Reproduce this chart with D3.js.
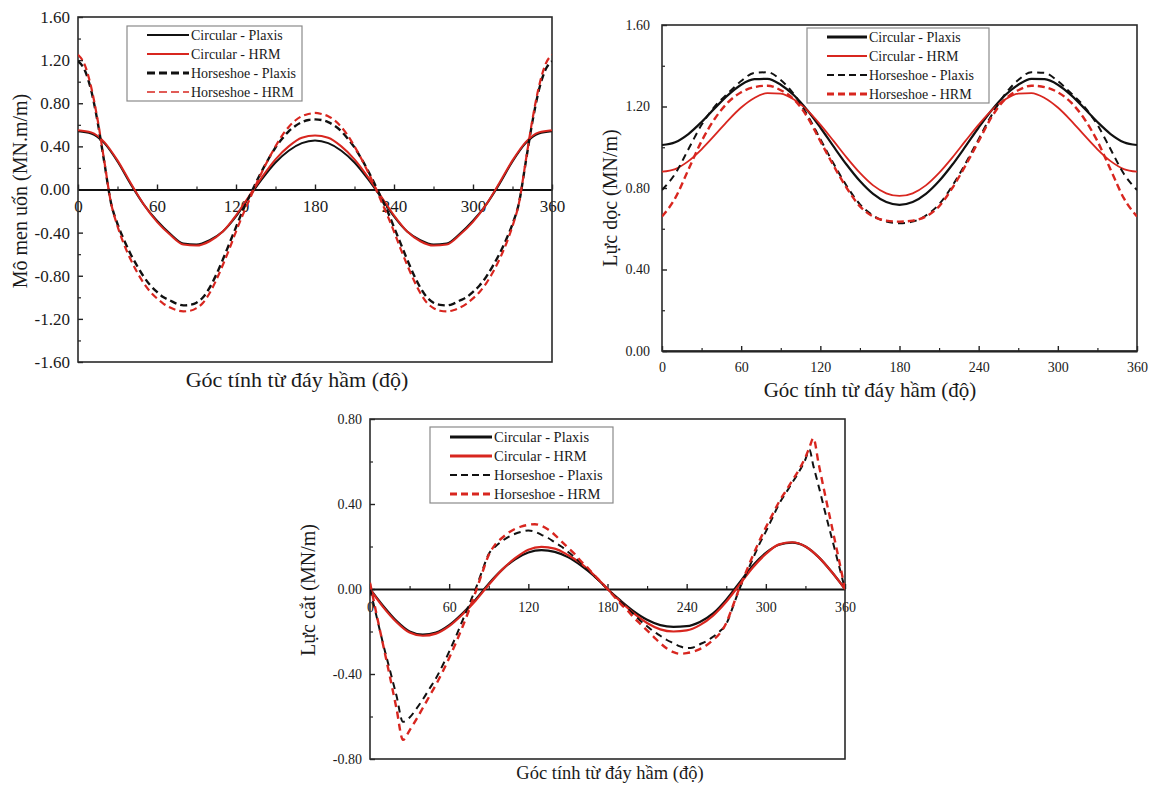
<!DOCTYPE html>
<html>
<head>
<meta charset="utf-8">
<script src="https://cdn.jsdelivr.net/npm/d3@7"></script>
<style>
  body { margin: 0; background: #fff; }
  svg { display: block; }
  text { font-family: "Liberation Serif", "Times New Roman", "DejaVu Serif", serif; fill: #1a1a1a; }
</style>
</head>
<body>
<svg id="fig" width="1154" height="785"></svg>
<script>
// ---------- shared labels ----------
const seriesNames = ["Circular - Plaxis", "Circular - HRM", "Horseshoe - Plaxis", "Horseshoe - HRM"];
const angleTicks = [0, 60, 120, 180, 240, 300, 360];
const xTitle = "Góc tính từ đáy hầm (độ)";

// ---------- bending moment (MN.m/m) ----------
const momentTicks = [-1.6, -1.2, -0.8, -0.4, 0, 0.4, 0.8, 1.2, 1.6];
const momentAngles = [0,10,20,30,40,50,60,70,80,90,100,110,120,130,140,150,160,170,180,
  190,200,210,220,230,240,250,260,270,280,290,300,310,320,330,340,350,360];
const momentCircPlaxis = [0.54,0.52,0.43,0.26,0.05,-0.14,-0.29,-0.41,-0.50,-0.51,-0.47,-0.39,-0.25,-0.07,0.10,0.25,0.36,0.43,0.455,
  0.43,0.36,0.25,0.10,-0.07,-0.25,-0.39,-0.47,-0.51,-0.50,-0.41,-0.29,-0.14,0.05,0.26,0.43,0.52,0.54];
const momentCircHRM = [0.55,0.53,0.44,0.27,0.06,-0.14,-0.30,-0.42,-0.51,-0.52,-0.48,-0.39,-0.24,-0.06,0.12,0.28,0.40,0.48,0.50,
  0.48,0.40,0.28,0.12,-0.06,-0.24,-0.39,-0.48,-0.52,-0.51,-0.42,-0.30,-0.14,0.06,0.27,0.44,0.53,0.55];
const momentHsAngles = [0,5,10,15,20,25,30,35,40,45,50,55,60,65,70,75,80,85,90,95,100,105,110,115,120,125,130,135,140,145,150,155,160,165,170,175,180,
  185,190,195,200,205,210,215,220,225,230,235,240,245,250,255,260,265,270,275,280,285,290,295,300,305,310,315,320,325,330,335,340,345,350,355,360];
const momentHsPlaxis = [1.19,1.11,0.92,0.62,0.25,-0.12,-0.32,-0.47,-0.60,-0.71,-0.81,-0.89,-0.95,-1.00,-1.03,-1.06,-1.075,-1.07,-1.05,-1.00,-0.91,-0.79,-0.65,-0.50,-0.35,-0.20,-0.07,0.06,0.18,0.29,0.39,0.47,0.54,0.59,0.625,0.645,0.65,
  0.645,0.625,0.59,0.54,0.47,0.39,0.29,0.18,0.06,-0.07,-0.20,-0.35,-0.50,-0.65,-0.79,-0.91,-1.00,-1.05,-1.07,-1.075,-1.06,-1.03,-1.00,-0.95,-0.89,-0.81,-0.71,-0.60,-0.47,-0.32,-0.12,0.25,0.62,0.92,1.11,1.19];
const momentHsHRM = [1.25,1.16,0.95,0.64,0.26,-0.12,-0.34,-0.51,-0.65,-0.77,-0.87,-0.95,-1.01,-1.06,-1.095,-1.12,-1.13,-1.125,-1.10,-1.05,-0.96,-0.84,-0.70,-0.55,-0.39,-0.24,-0.10,0.04,0.17,0.29,0.40,0.50,0.58,0.64,0.68,0.70,0.71,
  0.70,0.68,0.64,0.58,0.50,0.40,0.29,0.17,0.04,-0.10,-0.24,-0.39,-0.55,-0.70,-0.84,-0.96,-1.05,-1.10,-1.125,-1.13,-1.12,-1.095,-1.06,-1.01,-0.95,-0.87,-0.77,-0.65,-0.51,-0.34,-0.12,0.26,0.64,0.95,1.16,1.25];

// ---------- axial force (MN/m) ----------
const axialTicks = [0, 0.4, 0.8, 1.2, 1.6];
const axialAngles = momentAngles;
const axialCircPlaxis = [1.011,1.025,1.065,1.124,1.192,1.256,1.307,1.334,1.336,1.307,1.255,1.183,1.097,1.004,0.914,0.834,0.771,0.731,0.717,
  0.731,0.771,0.834,0.914,1.004,1.097,1.183,1.255,1.307,1.336,1.334,1.307,1.256,1.192,1.124,1.065,1.025,1.011];
const axialCircHRM = [0.880,0.893,0.932,0.990,1.059,1.131,1.195,1.242,1.266,1.263,1.234,1.182,1.111,1.031,0.949,0.874,0.813,0.774,0.761,
  0.774,0.813,0.874,0.949,1.031,1.111,1.182,1.234,1.263,1.266,1.242,1.195,1.131,1.059,0.990,0.932,0.893,0.880];
const axialHsPlaxis = [0.79,0.87,0.99,1.11,1.20,1.265,1.325,1.365,1.368,1.33,1.26,1.16,1.04,0.92,0.81,0.72,0.665,0.635,0.627,
  0.635,0.665,0.72,0.81,0.92,1.04,1.16,1.26,1.33,1.368,1.365,1.325,1.265,1.20,1.11,0.99,0.87,0.79];
const axialHsHRM = [0.66,0.75,0.89,1.03,1.14,1.22,1.27,1.295,1.302,1.28,1.235,1.15,1.03,0.91,0.80,0.71,0.66,0.64,0.635,
  0.64,0.66,0.71,0.80,0.91,1.03,1.15,1.235,1.28,1.302,1.295,1.27,1.22,1.14,1.03,0.89,0.75,0.66];

// ---------- shear force (MN/m) ----------
const shearTicks = [-0.8, -0.4, 0, 0.4, 0.8];
const shearAngles = momentAngles;
const shearCircPlaxis = [0,-0.08,-0.15,-0.20,-0.215,-0.205,-0.17,-0.115,-0.05,0.025,0.09,0.14,0.172,0.183,0.175,0.15,0.11,0.06,0,
  -0.055,-0.105,-0.145,-0.17,-0.178,-0.175,-0.155,-0.115,-0.05,0.03,0.11,0.17,0.208,0.218,0.20,0.15,0.08,0];
const shearCircHRM = [0,-0.085,-0.155,-0.205,-0.22,-0.21,-0.175,-0.12,-0.055,0.02,0.09,0.145,0.185,0.198,0.19,0.16,0.12,0.065,0,
  -0.06,-0.115,-0.16,-0.19,-0.20,-0.195,-0.17,-0.125,-0.06,0.02,0.10,0.165,0.21,0.22,0.20,0.15,0.08,0];
const shearHsAngles = [0,5,10,15,20,25,30,35,40,45,50,55,60,65,70,75,80,85,90,95,100,105,110,115,120,125,130,135,140,145,150,155,160,165,170,175,180,
  185,190,195,200,205,210,215,220,225,230,235,240,245,250,255,260,265,270,275,280,285,290,295,300,305,310,315,320,325,330,333,336,340,345,350,355,360];
const shearHsPlaxis = [0,-0.13,-0.26,-0.38,-0.50,-0.625,-0.605,-0.565,-0.52,-0.47,-0.42,-0.36,-0.295,-0.225,-0.15,-0.075,0.0,0.085,0.165,0.20,0.225,0.245,0.26,0.27,0.275,0.27,0.255,0.24,0.22,0.20,0.175,0.15,0.12,0.09,0.06,0.03,0.0,
  -0.03,-0.06,-0.09,-0.12,-0.15,-0.175,-0.20,-0.22,-0.24,-0.255,-0.27,-0.278,-0.275,-0.26,-0.245,-0.225,-0.20,-0.165,-0.085,0.0,0.07,0.14,0.21,0.27,0.335,0.40,0.45,0.50,0.55,0.61,0.655,0.58,0.485,0.36,0.24,0.12,0];
const shearHsHRM = [0.03,-0.12,-0.265,-0.41,-0.56,-0.71,-0.665,-0.615,-0.56,-0.505,-0.45,-0.39,-0.325,-0.255,-0.18,-0.10,-0.015,0.075,0.16,0.21,0.24,0.265,0.283,0.295,0.302,0.305,0.297,0.28,0.255,0.225,0.195,0.165,0.13,0.10,0.065,0.033,0.0,
  -0.035,-0.07,-0.10,-0.135,-0.165,-0.195,-0.225,-0.255,-0.28,-0.297,-0.305,-0.302,-0.295,-0.283,-0.265,-0.24,-0.21,-0.16,-0.08,0.005,0.08,0.155,0.225,0.29,0.35,0.41,0.46,0.51,0.56,0.62,0.665,0.71,0.59,0.44,0.295,0.15,0];

// ---------- drawing ----------
const svg = d3.select("#fig");
const RED = "#d8261f";
const BLACK = "#111111";
const SERIF = "Liberation Serif, Times New Roman, DejaVu Serif, serif";
const fmt = v => v.toFixed(2);

function panel(cfg) {
  const g = svg.append("g");
  const x = d3.scaleLinear().domain([0, 360]).range([cfg.left, cfg.right]);
  const y = d3.scaleLinear().domain(cfg.yDomain).range([cfg.bottom, cfg.top]);
  const base = y(Math.max(cfg.yDomain[0], 0));

  // y axis: major ticks with labels, minor ticks between
  const yMinor = [];
  for (let i = 0; i < cfg.yTicks.length - 1; i++) yMinor.push((cfg.yTicks[i] + cfg.yTicks[i + 1]) / 2);
  const ya = g.append("g").attr("transform", `translate(${cfg.left},0)`)
    .call(d3.axisLeft(y).tickValues(cfg.yTicks).tickFormat(fmt).tickSize(-5).tickPadding(cfg.yPad));
  ya.attr("font-family", SERIF);
  ya.select(".domain").remove();
  ya.selectAll("text").attr("font-size", cfg.tickFont).attr("fill", "#1a1a1a");
  ya.selectAll("line").attr("stroke", "#222").attr("stroke-width", 1.4);
  const yb = g.append("g").attr("transform", `translate(${cfg.left},0)`)
    .call(d3.axisLeft(y).tickValues(yMinor).tickFormat("").tickSize(-3));
  yb.select(".domain").remove();
  yb.selectAll("line").attr("stroke", "#222").attr("stroke-width", 1.2);

  // x axis on the zero line
  const xMinor = angleTicks.slice(0, -1).map((d, i) => (d + angleTicks[i + 1]) / 2);
  const xa = g.append("g").attr("transform", `translate(0,${base})`)
    .call(d3.axisBottom(x).tickValues(angleTicks).tickFormat(d3.format("d")).tickSizeInner(-5).tickSizeOuter(0).tickPadding(cfg.xPad));
  xa.attr("font-family", SERIF);
  xa.select(".domain").attr("stroke", "#111").attr("stroke-width", 2);
  xa.selectAll("text").attr("font-size", cfg.tickFont).attr("fill", "#1a1a1a");
  xa.selectAll("line").attr("stroke", "#222").attr("stroke-width", 1.4);
  const xb = g.append("g").attr("transform", `translate(0,${base})`)
    .call(d3.axisBottom(x).tickValues(xMinor).tickFormat("").tickSizeInner(-3).tickSizeOuter(0));
  xb.select(".domain").remove();
  xb.selectAll("line").attr("stroke", "#222").attr("stroke-width", 1.2);

  // frame
  g.append("rect")
    .attr("x", cfg.left).attr("y", cfg.top)
    .attr("width", cfg.right - cfg.left).attr("height", cfg.bottom - cfg.top)
    .attr("fill", "none").attr("stroke", "#2a2a2a").attr("stroke-width", 1.6);

  // curves
  const clipId = "clip" + cfg.id;
  svg.append("clipPath").attr("id", clipId).append("rect")
    .attr("x", cfg.left).attr("y", cfg.top - 4)
    .attr("width", cfg.right - cfg.left).attr("height", cfg.bottom - cfg.top + 8);
  const line = d3.line().x(d => x(d[0])).y(d => y(d[1])).curve(d3.curveMonotoneX);
  const cg = g.append("g").attr("clip-path", `url(#${clipId})`);
  cfg.series.forEach((s, i) => {
    const st = cfg.styles[i];
    cg.append("path")
      .datum(d3.zip(s.angles, s.values))
      .attr("d", line)
      .attr("fill", "none")
      .attr("stroke", st.color)
      .attr("stroke-width", st.width)
      .attr("stroke-dasharray", st.dash || null)
      .attr("stroke-linejoin", "round");
  });

  // legend
  const L = cfg.legend;
  const lg = g.append("g").attr("font-family", SERIF);
  lg.append("rect").attr("x", L.x).attr("y", L.y).attr("width", L.w).attr("height", L.h)
    .attr("fill", "#fff").attr("stroke", "#8a8a8a").attr("stroke-width", 1.2);
  seriesNames.forEach((name, i) => {
    const st = cfg.styles[i];
    const ry = L.rows[i];
    lg.append("line").attr("x1", L.lx0).attr("x2", L.lx1).attr("y1", ry).attr("y2", ry)
      .attr("stroke", st.color).attr("stroke-width", L.widths[i])
      .attr("stroke-dasharray", st.dash ? L.dash : null);
    lg.append("text").attr("x", L.tx).attr("y", ry).attr("dy", "0.35em")
      .attr("font-size", L.font).text(name);
  });

  // axis titles
  g.append("text").attr("x", cfg.xTitle.x).attr("y", cfg.xTitle.y)
    .attr("font-family", SERIF)
    .attr("text-anchor", "middle").attr("font-size", cfg.xTitle.font).text(xTitle);
  g.append("text").attr("transform", `translate(${cfg.yTitle.x},${cfg.yTitle.y}) rotate(-90)`)
    .attr("font-family", SERIF)
    .attr("text-anchor", "middle").attr("font-size", cfg.yTitle.font).text(cfg.yTitle.text);
}

// bending moment
panel({
  id: 1, left: 78, right: 552, top: 17, bottom: 362,
  yDomain: [-1.6, 1.6], yTicks: momentTicks, tickFont: 17, yPad: 8, xPad: 10,
  series: [
    { angles: momentAngles, values: momentCircPlaxis },
    { angles: momentAngles, values: momentCircHRM },
    { angles: momentHsAngles, values: momentHsPlaxis },
    { angles: momentHsAngles, values: momentHsHRM }
  ],
  styles: [
    { color: BLACK, width: 2 },
    { color: RED, width: 2 },
    { color: BLACK, width: 2.4, dash: "7,4" },
    { color: RED, width: 2.2, dash: "7,4" }
  ],
  legend: { x: 127, y: 26, w: 175, h: 75, rows: [35, 54, 73, 92], lx0: 147, lx1: 189, tx: 191,
            widths: [2, 2, 3, 1.6], dash: "8,4", font: 14 },
  xTitle: { x: 297, y: 387, font: 22 },
  yTitle: { x: 27, y: 191, font: 20, text: "Mô men uốn (MN.m/m)" }
});

// axial force
panel({
  id: 2, left: 662, right: 1137, top: 25, bottom: 351,
  yDomain: [0, 1.6], yTicks: axialTicks, tickFont: 14, yPad: 12, xPad: 11,
  series: [
    { angles: axialAngles, values: axialCircPlaxis },
    { angles: axialAngles, values: axialCircHRM },
    { angles: axialAngles, values: axialHsPlaxis },
    { angles: axialAngles, values: axialHsHRM }
  ],
  styles: [
    { color: BLACK, width: 2.2 },
    { color: RED, width: 1.8 },
    { color: BLACK, width: 2, dash: "7,5" },
    { color: RED, width: 2.4, dash: "7,4" }
  ],
  legend: { x: 807, y: 28, w: 182, h: 75, rows: [37, 56, 75, 94], lx0: 827, lx1: 867, tx: 869,
            widths: [3, 2, 2, 3], dash: "7,4", font: 14 },
  xTitle: { x: 870, y: 397, font: 21 },
  yTitle: { x: 617, y: 198, font: 20, text: "Lực dọc (MN/m)" }
});

// shear force
panel({
  id: 3, left: 370, right: 845, top: 419, bottom: 759,
  yDomain: [-0.8, 0.8], yTicks: shearTicks, tickFont: 14, yPad: 8, xPad: 13,
  series: [
    { angles: shearAngles, values: shearCircPlaxis },
    { angles: shearAngles, values: shearCircHRM },
    { angles: shearHsAngles, values: shearHsPlaxis },
    { angles: shearHsAngles, values: shearHsHRM }
  ],
  styles: [
    { color: BLACK, width: 2.2 },
    { color: RED, width: 2.2 },
    { color: BLACK, width: 2, dash: "7,5" },
    { color: RED, width: 2.4, dash: "7,5" }
  ],
  legend: { x: 430, y: 427, w: 183, h: 76, rows: [437, 456, 475, 494], lx0: 450, lx1: 492, tx: 494,
            widths: [3, 3, 2, 3], dash: "7,4", font: 14.5 },
  xTitle: { x: 610, y: 779, font: 18.5 },
  yTitle: { x: 315, y: 590, font: 20, text: "Lực cắt (MN/m)" }
});
</script>
</body>
</html>
